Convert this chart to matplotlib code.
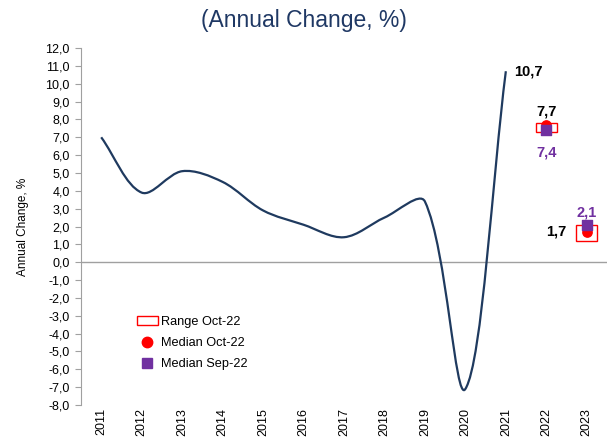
import matplotlib.pyplot as plt
import numpy as np
from matplotlib.path import Path
from matplotlib.patches import PathPatch, Rectangle
from matplotlib.lines import Line2D
from matplotlib.ticker import FuncFormatter

plt.rcParams['font.family'] = ['Liberation Sans', 'DejaVu Sans']

# Data
years = ['2011', '2012', '2013', '2014', '2015', '2016', '2017',
         '2018', '2019', '2020', '2021', '2022', '2023']
actual = [7.0, 3.9, 5.1, 4.5, 2.9, 2.1, 1.4, 2.5, 3.4, -7.1, 10.7]
forecast_years = ['2022', '2023']
median_oct = [7.7, 1.7]
median_sep = [7.4, 2.1]
range_low = [7.3, 1.2]
range_high = [7.8, 2.1]

line_color = '#1f3a5f'
purple = '#7030a0'

fig = plt.figure(figsize=(6.07, 4.41), dpi=100)
ax = fig.add_axes([0.1334, 0.0816, 0.8666, 0.8095])

# Smoothed line (Excel-like) built as cubic Bezier path, chord-length scaled
x = np.arange(len(actual), dtype=float)
y = np.array(actual)
sx, sy = 40.5, 17.85  # approx pixels per unit, for chord lengths
n = len(x)
pts = np.column_stack([x, y])

def chord(a, b):
    return np.hypot((b[0] - a[0]) * sx, (b[1] - a[1]) * sy)

verts = [tuple(pts[0])]
codes = [Path.MOVETO]
for i in range(n - 1):
    p0 = pts[max(i - 1, 0)]
    p1 = pts[i]
    p2 = pts[i + 1]
    p3 = pts[min(i + 2, n - 1)]
    if i > 0:
        f1 = chord(p1, p2) / (chord(p0, p1) + chord(p1, p2))
        c1 = p1 + (p2 - p0) * f1 / 3
    else:
        c1 = p1 + (p2 - p1) / 3
    if i + 2 < n:
        f2 = chord(p1, p2) / (chord(p1, p2) + chord(p2, p3))
        c2 = p2 - (p3 - p1) * f2 / 3
    else:
        c2 = p2 - (p2 - p1) / 3
    verts += [tuple(c1), tuple(c2), tuple(p2)]
    codes += [Path.CURVE4] * 3
ax.add_patch(PathPatch(Path(verts, codes), facecolor='none',
                       edgecolor=line_color, lw=1.6, zorder=3))

# Forecast range boxes and medians
fx = [years.index(fy) for fy in forecast_years]
for xi, lo, hi in zip(fx, range_low, range_high):
    ax.add_patch(Rectangle((xi - 0.26, lo), 0.52, hi - lo, facecolor='white',
                           edgecolor='red', lw=1.0, zorder=3))
ax.scatter(fx, median_oct, s=45, color='red', marker='o', zorder=4)
ax.scatter(fx, median_sep, s=45, color=purple, marker='s', zorder=5)

# Value labels
fmt = lambda v: f'{v:.1f}'.replace('.', ',')
ax.text(10 + 0.2, actual[-1], fmt(actual[-1]), fontsize=10.5, fontweight='bold',
        ha='left', va='center')
ax.text(fx[0], median_oct[0] + 0.75, fmt(median_oct[0]), fontsize=10.5,
        fontweight='bold', ha='center', va='center')
ax.text(fx[0], median_sep[0] - 1.25, fmt(median_sep[0]), fontsize=10.5,
        fontweight='bold', ha='center', va='center', color=purple)
ax.text(fx[1], median_sep[1] + 0.7, fmt(median_sep[1]), fontsize=10.5,
        fontweight='bold', ha='center', va='center', color=purple)
ax.text(fx[1] - 0.5, median_oct[1], fmt(median_oct[1]), fontsize=10.5,
        fontweight='bold', ha='right', va='center')

# Axes styling
ax.set_xlim(-0.5, len(years) - 0.5)
ax.set_ylim(-8, 12)
ax.set_yticks(np.arange(-8, 13, 1))
ax.yaxis.set_major_formatter(FuncFormatter(lambda v, p: fmt(v)))
ax.set_xticks(range(len(years)))
ax.set_xticklabels(years, rotation=90, fontsize=9)
ax.tick_params(axis='y', labelsize=9, length=4, color='#a0a0a0', pad=4)
ax.tick_params(axis='x', length=0, pad=2)
for s in ['top', 'right', 'bottom']:
    ax.spines[s].set_visible(False)
ax.spines['left'].set_color('#a0a0a0')
ax.axhline(0, color='#a0a0a0', lw=1.0, zorder=1)
ax.set_ylabel('Annual Change, %', fontsize=8.5, labelpad=12)

fig.suptitle('(Annual Change, %)', fontsize=16.5, color='#1f3864', y=0.98)

# Legend
handles = [
    Rectangle((0, 0), 1, 1, facecolor='white', edgecolor='red', lw=1.0),
    Line2D([], [], marker='o', color='red', ls='none', markersize=7.5),
    Line2D([], [], marker='s', color=purple, ls='none', markersize=6.5),
]
ax.legend(handles, ['Range Oct-22', 'Median Oct-22', 'Median Sep-22'],
          loc='lower left', bbox_to_anchor=(0.085, 0.065), frameon=False,
          fontsize=9.2, handlelength=1.6, handletextpad=0.3, labelspacing=0.7)

fig.savefig('out.png', dpi=100)
